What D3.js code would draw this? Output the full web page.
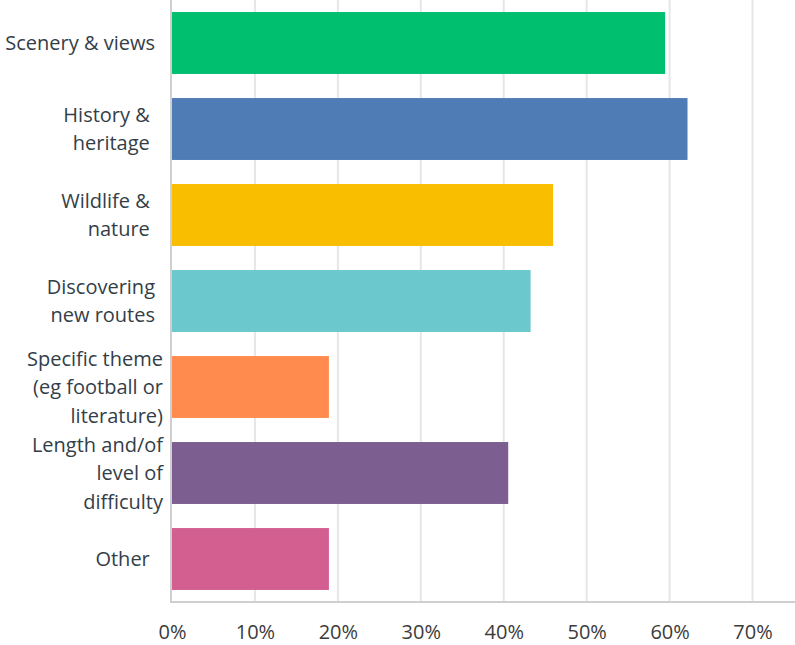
<!DOCTYPE html>
<html><head><meta charset="utf-8">
<script src="https://cdn.jsdelivr.net/npm/d3@7"></script>
<style>html,body{margin:0;padding:0;background:#fff;} text{white-space:pre;}</style>
</head><body>
<svg id="chart" width="795" height="645"></svg>
<script>
const categories = [
  ["Scenery & views"],
  ["History & ", "heritage "],
  ["Wildlife & ", "nature "],
  ["Discovering", "new routes"],
  ["Specific theme", "(eg football or", "literature)"],
  ["Length and/of", "level of", "difficulty"],
  ["Other "]
];
const values = [0.5946, 0.6216, 0.4595, 0.4324, 0.1892, 0.4054, 0.1892];
const colors = ["#00BF6F", "#507CB6", "#F9BE00", "#6BC8CD", "#FF8B4F", "#7D5E90", "#D25F90"];
const tickValues = [0, 0.1, 0.2, 0.3, 0.4, 0.5, 0.6, 0.7];

(function () {
const svg = d3.select("#chart");
const pLeft = 172, pRight = 794, pTop = 0, pBottom = 602;
const x = d3.scaleLinear().domain([0, 0.75]).range([pLeft, pRight]);
const y = d3.scaleBand().domain(d3.range(categories.length)).range([pTop, pBottom]).paddingInner(0.28).paddingOuter(0.14);
const font = "'Open Sans', sans-serif";

// gridlines
svg.append("g").selectAll("line").data(tickValues.slice(1)).join("line")
  .attr("x1", d => x(d)).attr("x2", d => x(d)).attr("y1", pTop).attr("y2", pBottom)
  .attr("stroke", "#e6e6e6").attr("stroke-width", 2);

// bars
svg.append("g").selectAll("rect").data(values).join("rect")
  .attr("x", x(0)).attr("y", (d, i) => y(i))
  .attr("width", d => x(d) - x(0)).attr("height", y.bandwidth())
  .attr("fill", (d, i) => colors[i]);

// axes lines
svg.append("line").attr("x1", pLeft - 1).attr("x2", pLeft - 1).attr("y1", 0).attr("y2", pBottom + 1)
  .attr("stroke", "#cfcfcf").attr("stroke-width", 2);
svg.append("line").attr("x1", pLeft - 2).attr("x2", 795).attr("y1", pBottom).attr("y2", pBottom)
  .attr("stroke", "#cfcfcf").attr("stroke-width", 2);

// x tick labels
const xAxis = d3.axisBottom(x).tickValues(tickValues).tickFormat(d3.format(".0%")).tickSize(0).tickPadding(0);
const xg = svg.append("g").attr("transform", `translate(0,${pBottom})`).call(xAxis);
xg.select(".domain").remove();
xg.selectAll("text").attr("dy", null).attr("y", 37).attr("font-family", font).attr("font-size", 20).attr("fill", "#3b3b3b");

// category labels
const lh = 28.5;
const lab = svg.append("g");
categories.forEach((lines, i) => {
  const cy = y(i) + y.bandwidth() / 2;
  const ax = lines.length > 2 ? 163 : 155;
  const t = lab.append("text").attr("text-anchor", "end").attr("font-family", font)
    .attr("font-size", 20).attr("fill", "#333e48").attr("xml:space", "preserve");
  lines.forEach((ln, j) => {
    t.append("tspan").attr("x", ax).attr("y", cy + (j - (lines.length - 1) / 2) * lh).attr("dy", "0.35em").text(ln);
  });
});
})();
</script>
</body></html>
